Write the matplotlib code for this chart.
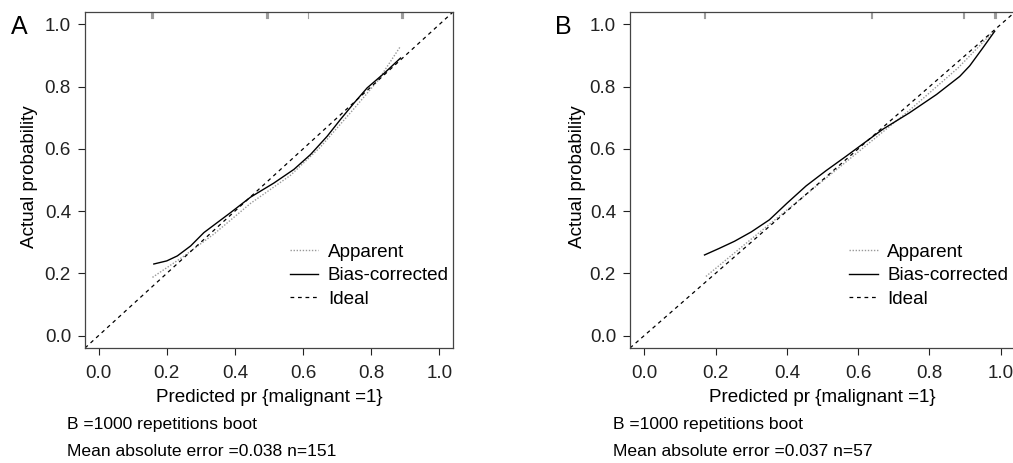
import numpy as np
import matplotlib
matplotlib.use('Agg')
import matplotlib.pyplot as plt

plt.rcParams['font.family'] = ['Liberation Sans', 'DejaVu Sans']

# panel A data
a_bias_x = [0.162, 0.20, 0.231, 0.27, 0.309, 0.387, 0.446, 0.514, 0.573, 0.622, 0.671, 0.71, 0.75, 0.788, 0.84, 0.886]
a_bias_y = [0.230, 0.240, 0.256, 0.288, 0.331, 0.395, 0.445, 0.490, 0.534, 0.582, 0.641, 0.695, 0.748, 0.796, 0.845, 0.892]
a_app_x = [0.158, 0.25, 0.338, 0.446, 0.563, 0.65, 0.75, 0.82, 0.886]
a_app_y = [0.187, 0.255, 0.326, 0.425, 0.515, 0.605, 0.73, 0.82, 0.93]
a_rug = [0.154, 0.157, 0.160, 0.492, 0.495, 0.498, 0.615, 0.887, 0.890, 0.893]
a_text = ['B =1000 repetitions boot', 'Mean absolute error =0.038 n=151']

# panel B data
b_bias_x = [0.169, 0.21, 0.253, 0.30, 0.351, 0.40, 0.454, 0.51, 0.567, 0.669, 0.744, 0.82, 0.885, 0.913, 0.95, 0.983]
b_bias_y = [0.259, 0.280, 0.303, 0.333, 0.372, 0.425, 0.481, 0.530, 0.577, 0.663, 0.716, 0.775, 0.833, 0.867, 0.925, 0.978]
b_app_x = [0.173, 0.3, 0.45, 0.6, 0.75, 0.88, 0.975]
b_app_y = [0.19, 0.31, 0.45, 0.59, 0.73, 0.86, 0.972]
b_rug = [0.168, 0.171, 0.635, 0.638, 0.894, 0.897, 0.982, 0.985, 0.988]
b_text = ['B =1000 repetitions boot', 'Mean absolute error =0.037 n=57']

ticks = [0.0, 0.2, 0.4, 0.6, 0.8, 1.0]
W, H = 1013, 463
FS = 13.6

fig = plt.figure(figsize=(W / 100, H / 100), dpi=100)


def panel(rect, letter, letter_pos, bias_x, bias_y, app_x, app_y, rug, notes, note_x, ylab_x, leg_anchor):
    l, t, r, b = rect
    ax = fig.add_axes([l / W, 1 - b / H, (r - l) / W, (b - t) / H])
    ax.set_xlim(-0.04, 1.04)
    ax.set_ylim(-0.04, 1.04)
    ideal = np.array([-0.04, 1.04])
    ax.plot(app_x, app_y, linestyle=(0, (1, 1.2)), color='#999999', lw=1.0, label='Apparent')
    ax.plot(bias_x, bias_y, color='black', lw=1.0, label='Bias-corrected')
    ax.plot(ideal, ideal, linestyle=(0, (3, 3)), color='black', lw=0.9, label='Ideal')
    for v in rug:
        ax.plot([v, v], [1.04, 1.022], color='#777777', lw=0.8, alpha=0.7, clip_on=False)
    ax.set_xticks(ticks)
    ax.set_yticks(ticks)
    ax.set_xticklabels([f'{v:.1f}' for v in ticks])
    ax.set_yticklabels([f'{v:.1f}' for v in ticks])
    ax.tick_params(axis='both', labelsize=FS, length=5, width=0.8, colors='#222222')
    ax.tick_params(axis='x', pad=7)
    ax.tick_params(axis='y', pad=5)
    for s in ax.spines.values():
        s.set_color('#444444')
        s.set_linewidth(0.9)
    ax.legend(loc='upper left', bbox_to_anchor=leg_anchor, frameon=False, fontsize=FS,
              handlelength=1.5, handletextpad=0.5, labelspacing=0.32, borderpad=0,
              borderaxespad=0)
    fig.text(((l + 14) + min(r, 1015) - 14) / 2 / W, 1 - 398 / H, 'Predicted pr {malignant =1}',
             ha='center', va='center', fontsize=FS)
    fig.text(ylab_x / W, 1 - 177 / H, 'Actual probability', rotation=90,
             ha='center', va='center', fontsize=FS)
    fig.text(note_x / W, 1 - 425 / H, notes[0], ha='left', va='center', fontsize=FS - 1)
    fig.text(note_x / W, 1 - 452 / H, notes[1], ha='left', va='center', fontsize=FS - 1)
    fig.text(letter_pos[0] / W, 1 - letter_pos[1] / H, letter, ha='left', va='center', fontsize=18)
    return ax


panel((85, 12, 453, 348), 'A', (11, 27), a_bias_x, a_bias_y, a_app_x, a_app_y, a_rug,
      a_text, 67, 30, (0.557, 0.31))
panel((630, 12, 1015, 348), 'B', (555, 27), b_bias_x, b_bias_y, b_app_x, b_app_y, b_rug,
      b_text, 613, 577, (0.57, 0.31))

fig.savefig('out.png', dpi=100)
